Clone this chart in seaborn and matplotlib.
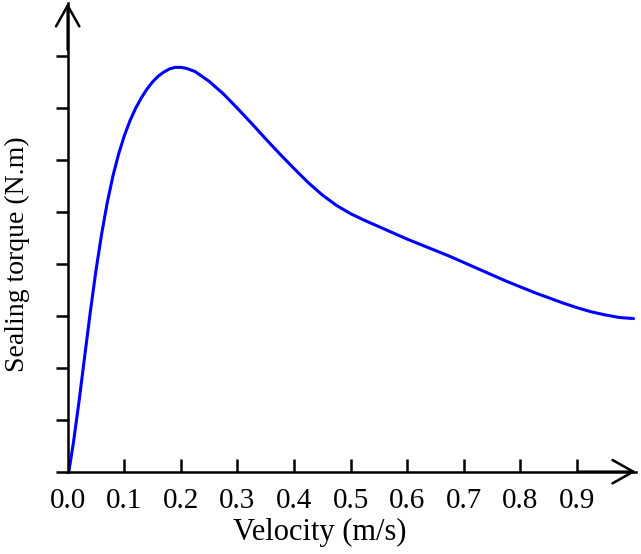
import matplotlib
matplotlib.use("Agg")
import matplotlib.pyplot as plt
import seaborn as sns

# values (y axis has no scale, units = tick steps)
velocity = [0.002, 0.010, 0.020, 0.030, 0.040, 0.050, 0.060, 0.070, 0.080, 0.090,
            0.100, 0.110, 0.120, 0.130, 0.140, 0.150, 0.160, 0.170, 0.180, 0.190,
            0.200, 0.210, 0.225, 0.250, 0.275, 0.300, 0.325, 0.350, 0.375, 0.400,
            0.425, 0.450, 0.475, 0.500, 0.525, 0.550, 0.575, 0.600, 0.625, 0.650,
            0.675, 0.700, 0.725, 0.750, 0.775, 0.800, 0.825, 0.850, 0.875, 0.900,
            0.925, 0.950, 0.975, 1.000]
torque = [0.00, 0.55, 1.35, 2.22, 3.08, 3.88, 4.58, 5.19, 5.70, 6.12,
          6.47, 6.76, 7.00, 7.20, 7.37, 7.51, 7.62, 7.70, 7.76, 7.79,
          7.79, 7.77, 7.71, 7.52, 7.28, 7.00, 6.71, 6.41, 6.12, 5.84,
          5.57, 5.33, 5.13, 4.97, 4.84, 4.72, 4.60, 4.48, 4.37, 4.26,
          4.15, 4.03, 3.91, 3.79, 3.67, 3.56, 3.45, 3.35, 3.25, 3.16,
          3.08, 3.02, 2.97, 2.95]
x_ticks = [0.0, 0.1, 0.2, 0.3, 0.4, 0.5, 0.6, 0.7, 0.8, 0.9]
x_tick_labels = ["0.0", "0.1", "0.2", "0.3", "0.4", "0.5", "0.6", "0.7", "0.8", "0.9"]
y_ticks = [0, 1, 2, 3, 4, 5, 6, 7, 8]

sns.set_style("ticks")
plt.rcParams["font.family"] = ["Liberation Serif", "DejaVu Serif"]
plt.rcParams["text.color"] = "black"
plt.rcParams["axes.labelcolor"] = "black"

fig = plt.figure(figsize=(6.41, 5.54), dpi=100)
ax = fig.add_axes([0.1056, 0.1486, 0.8864, 0.846])

sns.lineplot(x=velocity, y=torque, sort=False, color="#0000ff", linewidth=2.2, ax=ax)

ax.set_xlim(0, 1.004)
ax.set_ylim(0, 9.03)

# spines: only left and bottom, with open arrow heads
for side in ["top", "right"]:
    ax.spines[side].set_visible(False)
for side in ["left", "bottom"]:
    ax.spines[side].set_color("black")
    ax.spines[side].set_linewidth(1.8)

arrow = dict(arrowstyle="->,head_length=0.75,head_width=0.42", color="black",
             lw=1.8, shrinkA=0, shrinkB=0, mutation_scale=20)
ax.annotate("", xy=(1, 0), xytext=(0.9, 0), xycoords="axes fraction",
            arrowprops=arrow, annotation_clip=False)
ax.annotate("", xy=(0, 1), xytext=(0, 0.9), xycoords="axes fraction",
            arrowprops=arrow, annotation_clip=False)

# x ticks point inwards, labels start at 0.0 (the y axis itself)
ax.set_xticks(x_ticks)
ax.set_xticklabels(x_tick_labels)
ax.tick_params(axis="x", direction="in", length=9.4, width=1.8, pad=12,
               labelsize=21, colors="black")
ax.xaxis.get_major_ticks()[0].tick1line.set_visible(False)

# y ticks point outwards, no labels
ax.set_yticks(y_ticks)
ax.set_yticklabels([])
ax.tick_params(axis="y", direction="out", length=8.6, width=1.8, colors="black")

ax.set_xlabel("Velocity (m/s)", fontsize=22)
ax.xaxis.set_label_coords(0.444, -0.098)
ax.set_ylabel("Sealing torque (N.m)", fontsize=20)
ax.yaxis.set_label_coords(-0.066, 0.465)

plt.savefig("out.png", dpi=100)
